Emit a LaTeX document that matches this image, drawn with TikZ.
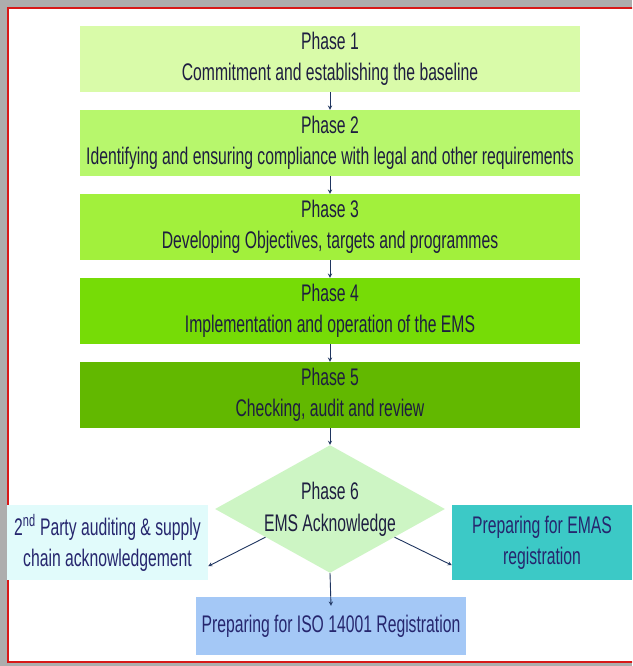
\documentclass[tikz,border=0pt]{standalone}
\usepackage{fontspec}
\setmainfont[FakeStretch=0.655]{Liberation Sans}
\usetikzlibrary{calc,arrows,shapes.geometric}
\definecolor{phaseone}{HTML}{D9FBA9}
\definecolor{phasetwo}{HTML}{B7F76C}
\definecolor{phasethree}{HTML}{A2F03C}
\definecolor{phasefour}{HTML}{76DC06}
\definecolor{phasefive}{HTML}{62B800}
\definecolor{phasesix}{HTML}{CDF5C4}
\definecolor{partybox}{HTML}{E1FBFB}
\definecolor{emasbox}{HTML}{3CC9C6}
\definecolor{isobox}{HTML}{A4C8F6}
\definecolor{darktext}{HTML}{1E1E40}
\definecolor{navytext}{HTML}{26266E}
\definecolor{arrowblue}{HTML}{1F3560}
\definecolor{framered}{HTML}{D81818}
\begin{document}
\begin{tikzpicture}[x=1pt,y=-1pt,>=stealth,
    phase/.style={minimum width=500pt,minimum height=66pt,inner sep=0pt,align=center,
        text=darktext,font=\fontsize{24}{31}\selectfont},
    outcome/.style={inner sep=0pt,align=center,text=navytext,font=\fontsize{24}{31}\selectfont},
    link/.style={->,draw=arrowblue,line width=0.9pt}]
            \useasboundingbox (0,0) rectangle (632,666);
            \clip (0,0) rectangle (632,666);
            \fill[black!32] (0,0) rectangle (632,666);
            \fill[white] (8,8) rectangle (660,662);
            \draw[framered, line width=2pt] (8,8) rectangle (660,662);
            \node[phase, fill=phaseone] (p1) at (330,59) {Phase 1\\Commitment and establishing the baseline};
            \node[phase, fill=phasetwo] (p2) at (330,143) {Phase 2\\Identifying and ensuring compliance with legal and other requirements};
            \node[phase, fill=phasethree] (p3) at (330,227) {Phase 3\\Developing  Objectives, targets and programmes};
            \node[phase, fill=phasefour] (p4) at (330,311) {Phase 4\\Implementation and operation of the EMS};
            \node[phase, fill=phasefive] (p5) at (330,395) {Phase 5\\Checking, audit and review};
            \node[diamond, fill=phasesix, minimum width=221pt, minimum height=123pt, aspect=1.8,
                inner sep=0pt, align=center, text=darktext, font=\fontsize{24}{32}\selectfont]
                (p6) at (330,509) {Phase 6\\EMS Acknowledge};
            \node[outcome, fill=partybox, minimum width=201pt, minimum height=75pt] (party) at (107.5,542.5)
                {2\textsuperscript{nd} Party auditing \& supply\\chain acknowledgement};
            \node[outcome, fill=emasbox, minimum width=180pt, minimum height=75pt] (emas) at (542,542.5)
                {Preparing for EMAS\\registration};
            \node[outcome, fill=isobox, minimum width=270pt, minimum height=58pt] (iso) at (331,626)
                {Preparing for ISO 14001 Registration};
            \draw[link] (p1) -- (p2);
            \draw[link] (p2) -- (p3);
            \draw[link] (p3) -- (p4);
            \draw[link] (p4) -- (p5);
            \draw[link] (p5) -- (p6);
            \draw[link] ($(p6.west)!0.44!(p6.south)$) -- ([yshift=14pt]party.south east);
            \draw[link] ($(p6.east)!0.44!(p6.south)$) -- ([yshift=15pt]emas.south west);
            \draw[link] (p6.south) -- ([yshift=-9pt]iso.north);
        \end{tikzpicture}
\end{document}
